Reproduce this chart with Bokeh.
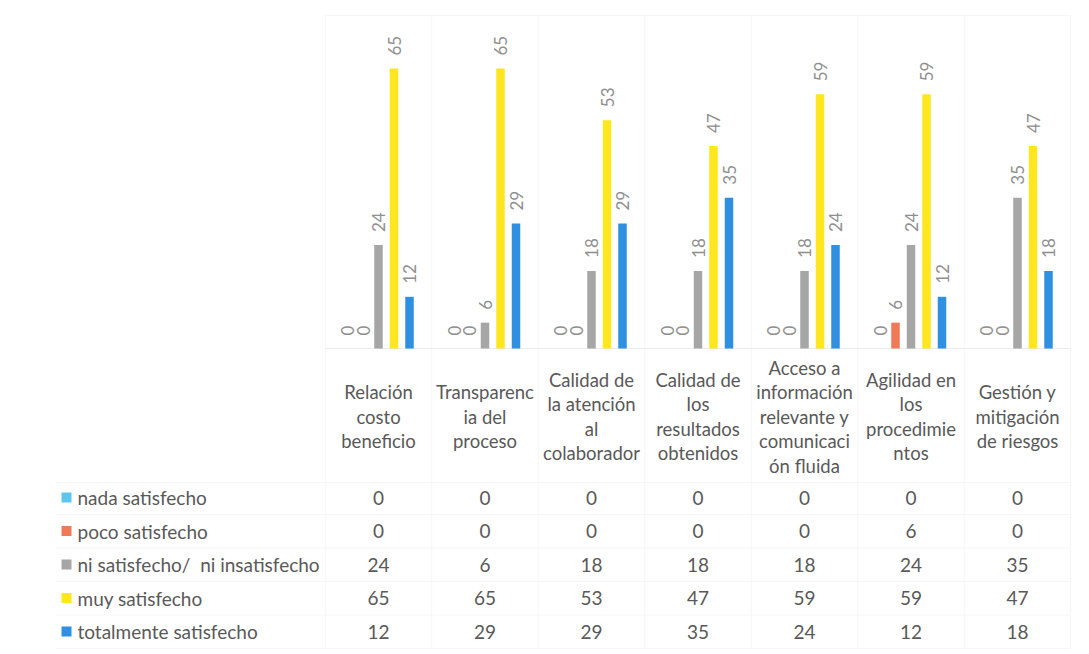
import math
from bokeh.plotting import figure
from bokeh.models import ColumnDataSource, Range1d
from bokeh.core.properties import value
from bokeh.embed import file_html
from bokeh.resources import INLINE

# ---------------- data ----------------
categories = [
    "Relación costo beneficio",
    "Transparencia del proceso",
    "Calidad de la atención al colaborador",
    "Calidad de los resultados obtenidos",
    "Acceso a información relevante y comunicación fluida",
    "Agilidad en los procedimientos",
    "Gestión y mitigación de riesgos",
]
category_lines = [
    ["Relación", "costo", "beneficio"],
    ["Transparenc", "ia del", "proceso"],
    ["Calidad de", "la atención", "al", "colaborador"],
    ["Calidad de", "los", "resultados", "obtenidos"],
    ["Acceso a", "información", "relevante y", "comunicaci", "ón fluida"],
    ["Agilidad en", "los", "procedimie", "ntos"],
    ["Gestión y", "mitigación", "de riesgos"],
]
series_names = [
    "nada satisfecho",
    "poco satisfecho",
    "ni satisfecho/\u00a0 ni insatisfecho",
    "muy satisfecho",
    "totalmente satisfecho",
]
nada = [0, 0, 0, 0, 0, 0, 0]
poco = [0, 0, 0, 0, 0, 6, 0]
ni = [24, 6, 18, 18, 18, 24, 35]
muy = [65, 65, 53, 47, 59, 59, 47]
totalmente = [12, 29, 29, 35, 24, 12, 18]
series_values = [nada, poco, ni, muy, totalmente]
series_colors = ["#5ec6ea", "#f07a58", "#a6a6a6", "#ffe61e", "#2f8fe0"]

# ---------------- layout (pixels) ----------------
W, H = 1080, 650
ORG = 0                      # figure origin on the page
CAT0 = 378                   # centre of first category (page px)
STEP = 106.5                 # category width (px)
BASE = 348                   # bar baseline (page px)
PXU = 280 / 65               # px per unit
BAR_GAP = 15.5 / STEP
BAR_W = 8.5 / STEP

def lx(px):
    return (px - CAT0) / STEP

def ly(py):
    return (BASE - py) / PXU

FONT = "Lato"
TXT = "#595959"
GRID = "#f6f6f6"

p = figure(width=W, height=H, output_backend="svg", toolbar_location=None,
           x_axis_type=None, y_axis_type=None,
           x_range=Range1d(lx(ORG), lx(ORG + W)),
           y_range=Range1d(ly(ORG + H), ly(ORG)),
           min_border=0)
p.outline_line_color = None
p.grid.visible = False
p.background_fill_color = "white"

n = len(categories)

# faint grid lines (chart / data table)
vx = [lx(CAT0 - STEP / 2 + STEP * k) for k in range(n + 1)]
p.multi_line(xs=[[x, x] for x in vx], ys=[[ly(15), ly(648)] for _ in vx],
             line_color=GRID, line_width=1)
hy = [15, 482, 514, 547.5, 581, 614.5, 648]
p.multi_line(xs=[[lx(55 if y > 400 else CAT0 - STEP / 2), lx(CAT0 - STEP / 2 + STEP * n)] for y in hy],
             ys=[[ly(y), ly(y)] for y in hy], line_color=GRID, line_width=1)
p.segment(x0=[lx(CAT0 - STEP / 2)], y0=[0], x1=[lx(CAT0 - STEP / 2 + STEP * n)], y1=[0],
          line_color="#ebebeb", line_width=1)

# bars and rotated value labels
for s, (vals, col) in enumerate(zip(series_values, series_colors)):
    xs = [i + (s - 2) * BAR_GAP for i in range(n)]
    src = ColumnDataSource(dict(x=xs, top=vals,
                                ly=[v + 13 / PXU for v in vals],
                                lab=[str(v) for v in vals]))
    p.vbar(x="x", top="top", bottom=0, width=BAR_W, source=src,
           fill_color=col, line_color=None)
    p.text(x="x", y="ly", text="lab", source=src, angle=math.pi / 2,
           text_align="left", text_baseline="middle",
           text_font=value(FONT), text_font_size="17px", text_color="#8f8f8f")

# category header of data table
LINE_H = 24.5
HEAD_C = 416
hx, hyy, ht = [], [], []
for i, lines in enumerate(category_lines):
    m = len(lines)
    for k, t in enumerate(lines):
        hx.append(i)
        hyy.append(ly(HEAD_C + (k - (m - 1) / 2) * LINE_H))
        ht.append(t)
p.text(x=hx, y=hyy, text=ht, text_align="center", text_baseline="middle",
       text_font=value(FONT), text_font_size="18.5px", text_color=TXT)

# data table rows
ROW_Y = [497, 530.5, 564, 597.5, 631]
for s, (name, vals, col) in enumerate(zip(series_names, series_values, series_colors)):
    yv = ly(ROW_Y[s])
    p.scatter(x=[lx(66)], y=[yv], marker="square", size=10,
              fill_color=col, line_color=None)
    p.text(x=[lx(77)], y=[yv], text=[name], text_align="left", text_baseline="middle",
           text_font=value(FONT), text_font_size="19px", text_color=TXT)
    p.text(x=list(range(n)), y=[yv] * n, text=[str(v) for v in vals],
           text_align="center", text_baseline="middle",
           text_font=value(FONT), text_font_size="19px", text_color=TXT)

open("out.html", "w").write(file_html(p, INLINE))
